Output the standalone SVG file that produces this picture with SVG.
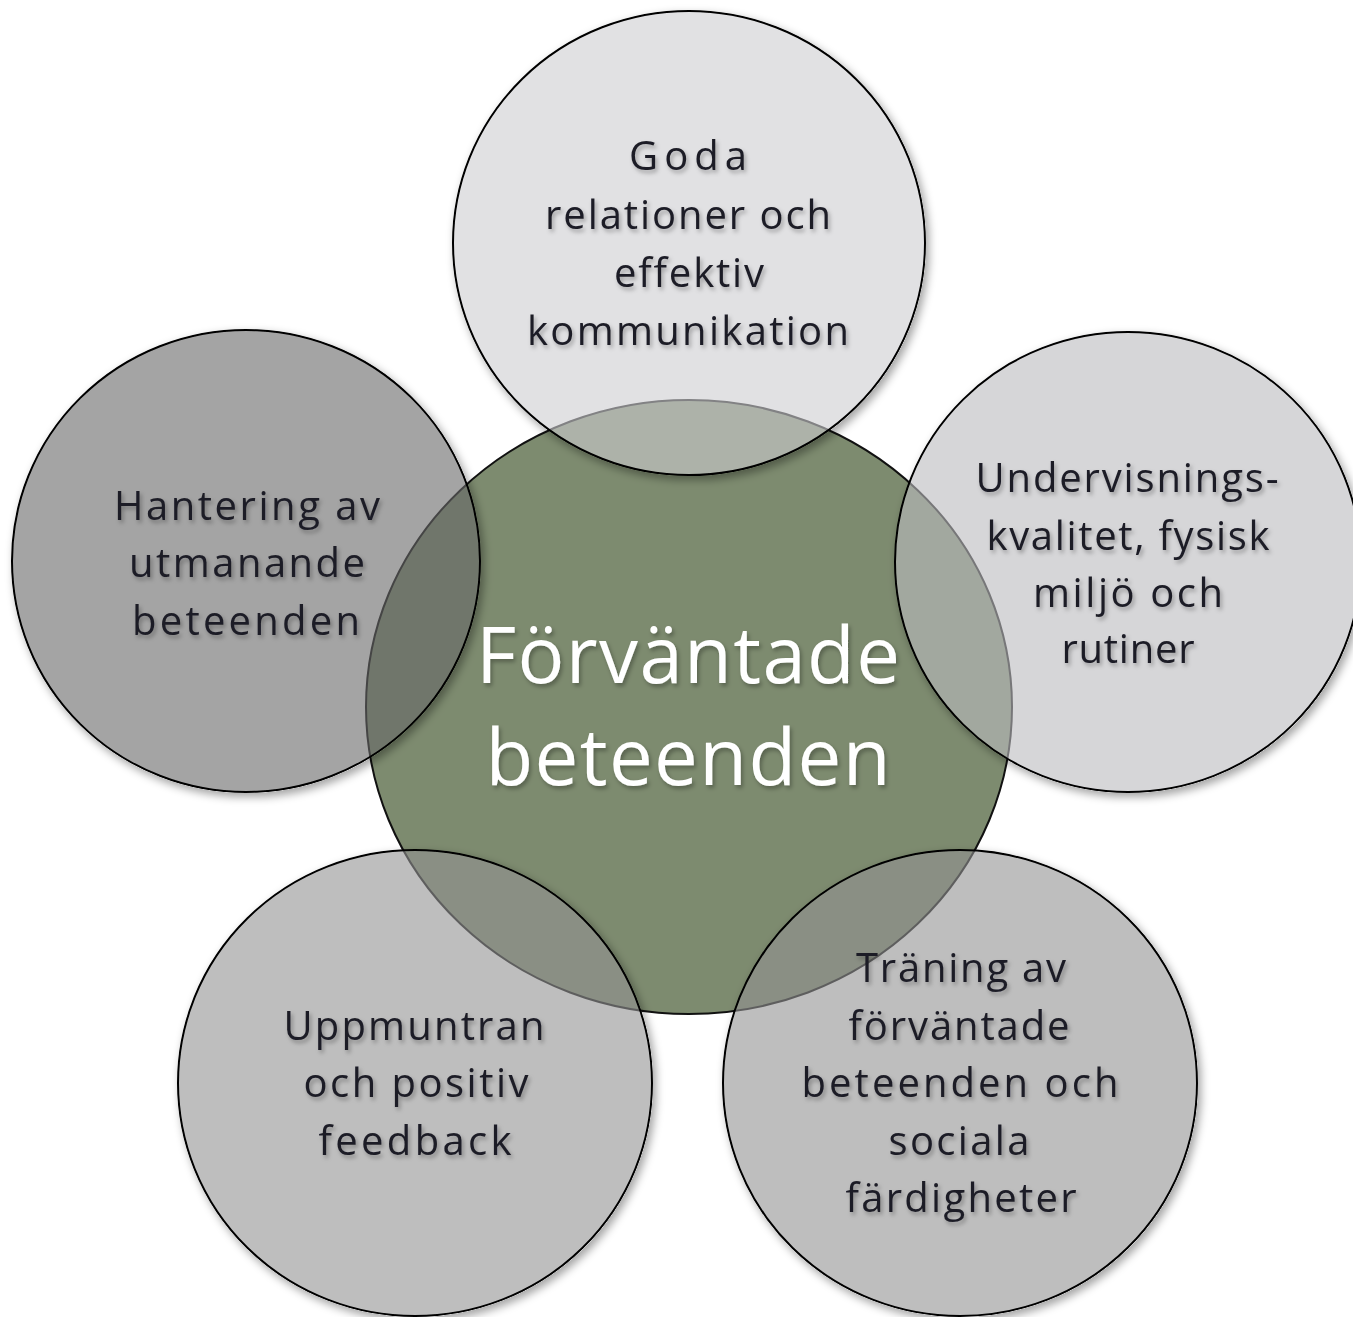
<svg xmlns="http://www.w3.org/2000/svg" width="1353" height="1317" viewBox="0 0 1353 1317">
  <defs>
    <filter id="shadow" x="-10%" y="-10%" width="125%" height="125%">
      <feComponentTransfer in="SourceAlpha" result="solid"><feFuncA type="linear" slope="5"/></feComponentTransfer>
      <feGaussianBlur in="solid" stdDeviation="4" result="b"/>
      <feOffset in="b" dx="3" dy="4" result="o"/>
      <feFlood flood-color="#000" flood-opacity="0.35"/>
      <feComposite in2="o" operator="in" result="s"/>
      <feComposite in="s" in2="solid" operator="out" result="s2"/>
      <feMerge><feMergeNode in="s2"/><feMergeNode in="SourceGraphic"/></feMerge>
    </filter>
    <filter id="tshadow" x="-10%" y="-30%" width="120%" height="170%">
      <feDropShadow dx="2" dy="3" stdDeviation="2" flood-color="#000" flood-opacity="0.3"/>
    </filter>
  </defs>
  <style>
    .outer { stroke: #000; stroke-width: 2; fill-opacity: 0.6; }
    .center { fill: #7d8b6f; stroke: #111; stroke-width: 2; }
    .lbl { font-family: "Open Sans", "Noto Sans", "Liberation Sans", sans-serif; font-size: 40px; fill: #1c1c26; text-anchor: middle; font-variant-ligatures: none; }
    .clbl { font-family: "Open Sans", "Noto Sans", "Liberation Sans", sans-serif; font-size: 78px; fill: #ffffff; text-anchor: middle; font-variant-ligatures: none; }
  </style>
  <rect width="1353" height="1317" fill="#ffffff"/>

  <g id="node-center">
    <ellipse class="center" cx="689" cy="707" rx="323" ry="307"/>
  </g>

  <g id="connectors"></g>

  <g id="node-top">
    <ellipse class="outer" cx="689" cy="243" rx="236" ry="232" fill="#cdcdd0" filter="url(#shadow)"/>
    <g class="lbl" filter="url(#tshadow)">
      <text x="688" y="170" textLength="118" lengthAdjust="spacing">Goda</text>
      <text x="688" y="229" textLength="286" lengthAdjust="spacing">relationer och</text>
      <text x="689" y="287" textLength="150" lengthAdjust="spacing">effektiv</text>
      <text x="688" y="345" textLength="322" lengthAdjust="spacing">kommunikation</text>
    </g>
  </g>

  <g id="node-left">
    <ellipse class="outer" cx="246" cy="561" rx="234" ry="231" fill="#676767" filter="url(#shadow)"/>
    <g class="lbl" filter="url(#tshadow)">
      <text x="247" y="520" textLength="266" lengthAdjust="spacing">Hantering av</text>
      <text x="247" y="577" textLength="236" lengthAdjust="spacing">utmanande</text>
      <text x="246" y="635" textLength="228" lengthAdjust="spacing">beteenden</text>
    </g>
  </g>

  <g id="node-right">
    <ellipse class="outer" cx="1128" cy="562" rx="233" ry="230" fill="#bbbbbe" filter="url(#shadow)"/>
    <g class="lbl" filter="url(#tshadow)">
      <text x="1127" y="492" textLength="303" lengthAdjust="spacing">Undervisnings-</text>
      <text x="1128" y="550" textLength="283" lengthAdjust="spacing">kvalitet, fysisk</text>
      <text x="1128" y="607" textLength="190" lengthAdjust="spacing">miljö och</text>
      <text x="1128" y="663" textLength="133" lengthAdjust="spacing">rutiner</text>
    </g>
  </g>

  <g id="node-bottom-left">
    <ellipse class="outer" cx="415" cy="1083" rx="237" ry="233" fill="#939393" filter="url(#shadow)"/>
    <g class="lbl" filter="url(#tshadow)">
      <text x="414" y="1040" textLength="261" lengthAdjust="spacing">Uppmuntran</text>
      <text x="416" y="1097" textLength="225" lengthAdjust="spacing">och positiv</text>
      <text x="415" y="1155" textLength="193" lengthAdjust="spacing">feedback</text>
    </g>
  </g>

  <g id="node-bottom-right">
    <ellipse class="outer" cx="960" cy="1083" rx="237" ry="233" fill="#939393" filter="url(#shadow)"/>
    <g class="lbl" filter="url(#tshadow)">
      <text x="961" y="982" textLength="210" lengthAdjust="spacing">Träning av</text>
      <text x="959" y="1040" textLength="221" lengthAdjust="spacing">förväntade</text>
      <text x="960" y="1097" textLength="317" lengthAdjust="spacing">beteenden och</text>
      <text x="959" y="1155" textLength="141" lengthAdjust="spacing">sociala</text>
      <text x="961" y="1212" textLength="231" lengthAdjust="spacing">färdigheter</text>
    </g>
  </g>

  <g id="node-center-label" class="clbl" filter="url(#tshadow)">
    <text x="688" y="683" textLength="424" lengthAdjust="spacing">Förväntade</text>
    <text x="688" y="785" textLength="405" lengthAdjust="spacing">beteenden</text>
  </g>
</svg>
